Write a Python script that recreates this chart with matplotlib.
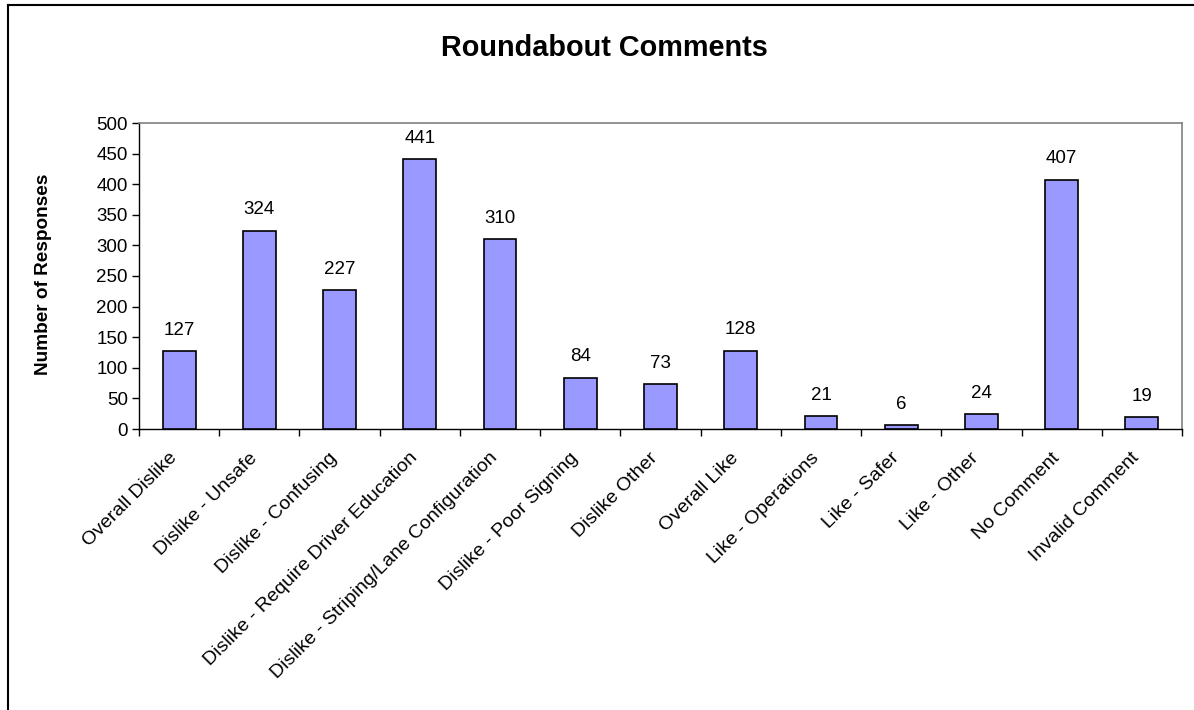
import matplotlib
matplotlib.use("Agg")
import matplotlib.pyplot as plt
from matplotlib.lines import Line2D
from matplotlib.transforms import ScaledTranslation
import numpy as np

plt.rcParams['font.family'] = ['Liberation Sans', 'DejaVu Sans']

categories = [
    "Overall Dislike", "Dislike - Unsafe", "Dislike - Confusing",
    "Dislike - Require Driver Education", "Dislike - Striping/Lane Configuration",
    "Dislike - Poor Signing", "Dislike Other", "Overall Like",
    "Like - Operations", "Like - Safer", "Like - Other", "No Comment",
    "Invalid Comment",
]
responses = [127, 324, 227, 441, 310, 84, 73, 128, 21, 6, 24, 407, 19]
y_ticks = list(range(0, 501, 50))

W, H = 1194, 710
fig = plt.figure(figsize=(W / 100, H / 100), dpi=100)
ax = fig.add_axes([139 / W, 1 - 429 / H, (1182 - 139) / W, (429 - 123) / H])

x = np.arange(len(categories))
ax.bar(x, responses, width=0.41, color="#9999FF", edgecolor="black", linewidth=1.2, zorder=3)

for xi, v in zip(x, responses):
    ax.annotate(str(v), (xi, v), xytext=(0, 9), textcoords="offset points",
                ha="center", va="bottom", fontsize=13.5)

ax.set_xlim(-0.5, len(categories) - 0.5)
ax.set_ylim(0, 500)
ax.set_yticks(y_ticks)
ax.tick_params(axis="y", labelsize=13.5, length=5, width=1, direction="out", pad=3)

ax.set_xticks(x)
ax.set_xticklabels(categories, rotation=45, ha="right", va="center",
                   rotation_mode="anchor", fontsize=14)
ax.tick_params(axis="x", which="major", length=0, pad=19)
shift = ScaledTranslation(-5 / 100, 0, fig.dpi_scale_trans)
for lbl in ax.get_xticklabels():
    lbl.set_transform(lbl.get_transform() + shift)
ax.set_xticks(np.arange(-0.5, len(categories), 1.0), minor=True)
ax.tick_params(axis="x", which="minor", length=5, width=1, direction="out")

for side in ("top", "right"):
    ax.spines[side].set_color("#808080")
    ax.spines[side].set_linewidth(1.2)
for side in ("left", "bottom"):
    ax.spines[side].set_color("black")
    ax.spines[side].set_linewidth(1.0)

fig.text(44 / W, 1 - 274 / H, "Number of Responses", rotation=90, ha="center", va="center",
         fontsize=13.7, fontweight="bold")
fig.text(604 / W, 1 - 48 / H, "Roundabout Comments", ha="center", va="center",
         fontsize=20.8, fontweight="bold")

# outer chart border (top and left edges)
fig.add_artist(Line2D([8 / W, 8 / W], [0, 1 - 5 / H], transform=fig.transFigure,
                      color="black", linewidth=1.5))
fig.add_artist(Line2D([8 / W, 1], [1 - 5 / H, 1 - 5 / H], transform=fig.transFigure,
                      color="black", linewidth=1.5))

fig.savefig("out.png", dpi=100, facecolor="white")
